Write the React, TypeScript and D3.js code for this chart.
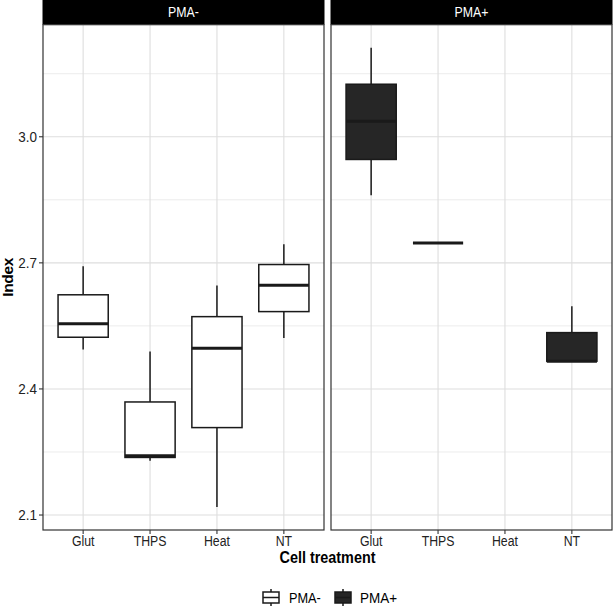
import * as React from "react"
import * as d3 from "d3"

// treatment categories on the x axis (shared by both facets)
const categories = ["Glut", "THPS", "Heat", "NT"]
const groups = ["PMA-", "PMA+"]

// box stats per category: [min, q1, median, q3, max]
const pmaMinus: (number[] | null)[] = [
  [2.494, 2.523, 2.555, 2.624, 2.692],
  [2.229, 2.237, 2.241, 2.369, 2.489],
  [2.119, 2.308, 2.497, 2.572, 2.646],
  [2.521, 2.584, 2.647, 2.696, 2.744],
]
const pmaPlus: (number[] | null)[] = [
  [2.861, 2.946, 3.037, 3.125, 3.212],
  [2.747, 2.747, 2.747, 2.747, 2.747],
  null,
  [2.466, 2.466, 2.466, 2.534, 2.597],
]

const yMajor = [2.1, 2.4, 2.7, 3.0]
const yMinor = [2.25, 2.55, 2.85, 3.15]

const fills = ["#ffffff", "#262626"]
const font = "'Liberation Sans', Arial, sans-serif"

const W = 615
const H = 606
const stripH = 24.7
const panelTop = 24.7
const panelBottom = 530
const panels = [
  { x0: 43, x1: 324 },
  { x0: 331, x1: 612 },
]

const allVals = [...pmaMinus, ...pmaPlus].filter(Boolean).flat() as number[]
const vMin = d3.min(allVals) as number
const vMax = d3.max(allVals) as number
const pad = (vMax - vMin) * 0.05

const yScale = d3
  .scaleLinear()
  .domain([vMin - pad, vMax + pad])
  .range([panelBottom, panelTop])

// narrow text: the labels are drawn slightly condensed
function Label({
  x,
  y,
  sx = 0.86,
  anchor = "middle",
  size = 15,
  fill = "#222",
  weight = "normal",
  dy = "0",
  children,
}: {
  x: number
  y: number
  sx?: number
  anchor?: string
  size?: number
  fill?: string
  weight?: string
  dy?: string
  children: React.ReactNode
}) {
  return (
    <text
      transform={`translate(${x},${y}) scale(${sx},1)`}
      textAnchor={anchor}
      dy={dy}
      fontSize={size}
      fontWeight={weight}
      fontFamily={font}
      fill={fill}
    >
      {children}
    </text>
  )
}

function Panel({ idx, data }: { idx: number; data: (number[] | null)[] }) {
  const { x0, x1 } = panels[idx]
  const x = d3.scalePoint().domain(categories).range([x0, x1]).padding(0.6)
  const boxW = x.step() * 0.75
  const grid = "#dedede"
  return (
    <g>
      {/* strip */}
      <rect x={x0 - 0.5} y={0} width={x1 - x0 + 1} height={stripH} fill="#000" />
      <Label x={(x0 + x1) / 2} y={stripH / 2} dy="0.36em" size={14} sx={0.88} fill="#fff">
        {groups[idx]}
      </Label>
      {/* grid */}
      {yMinor.map((v) => (
        <line key={"mi" + v} x1={x0} x2={x1} y1={yScale(v)} y2={yScale(v)} stroke={grid} strokeWidth={0.6} />
      ))}
      {yMajor.map((v) => (
        <line key={"ma" + v} x1={x0} x2={x1} y1={yScale(v)} y2={yScale(v)} stroke={grid} strokeWidth={1.1} />
      ))}
      {categories.map((c) => (
        <line key={"vx" + c} x1={x(c)} x2={x(c)} y1={panelTop} y2={panelBottom} stroke={grid} strokeWidth={1.1} />
      ))}
      {/* boxes */}
      {data.map((d, i) => {
        if (!d) return null
        const cx = x(categories[i]) as number
        const [mn, q1, md, q3, mx] = d
        return (
          <g key={"b" + i} stroke="#1a1a1a">
            {mx > q3 && <line x1={cx} x2={cx} y1={yScale(mx)} y2={yScale(q3)} strokeWidth={1.5} />}
            {mn < q1 && <line x1={cx} x2={cx} y1={yScale(mn)} y2={yScale(q1)} strokeWidth={1.5} />}
            <rect
              x={cx - boxW / 2}
              y={yScale(q3)}
              width={boxW}
              height={yScale(q1) - yScale(q3)}
              fill={fills[idx]}
              strokeWidth={1.5}
            />
            <line x1={cx - boxW / 2} x2={cx + boxW / 2} y1={yScale(md)} y2={yScale(md)} strokeWidth={3} />
          </g>
        )
      })}
      {/* border */}
      <rect
        x={x0}
        y={panelTop}
        width={x1 - x0}
        height={panelBottom - panelTop}
        fill="none"
        stroke="#333"
        strokeWidth={1.2}
      />
      {/* x ticks */}
      {categories.map((c) => (
        <g key={"xt" + c}>
          <line x1={x(c)} x2={x(c)} y1={panelBottom} y2={panelBottom + 4} stroke="#333" strokeWidth={1.1} />
          <Label x={x(c) as number} y={panelBottom + 16} sx={0.82}>
            {c}
          </Label>
        </g>
      ))}
    </g>
  )
}

function LegendKey({ x, y, fill }: { x: number; y: number; fill: string }) {
  const w = 16
  const cx = x + w / 2
  return (
    <g stroke="#1a1a1a" strokeWidth={1.5}>
      <line x1={cx} x2={cx} y1={y} y2={y + 3} />
      <line x1={cx} x2={cx} y1={y + 14} y2={y + 17} />
      <rect x={x} y={y + 3} width={w} height={11} fill={fill} />
      <line x1={x} x2={x + w} y1={y + 8.5} y2={y + 8.5} strokeWidth={1.5} />
    </g>
  )
}

export default function App() {
  const left = panels[0].x0
  return (
    <svg
      width={W}
      height={H}
      style={{ position: "absolute", left: 0, top: 0, background: "#fff" }}
    >
      <rect width={W} height={H} fill="#fff" />
      <Panel idx={0} data={pmaMinus} />
      <Panel idx={1} data={pmaPlus} />
      {/* y axis */}
      {yMajor.map((v) => (
        <g key={"yt" + v}>
          <line x1={left - 4} x2={left} y1={yScale(v)} y2={yScale(v)} stroke="#333" strokeWidth={1.1} />
          <Label x={left - 6} y={yScale(v)} dy="0.36em" anchor="end" sx={0.9}>
            {v.toFixed(1)}
          </Label>
        </g>
      ))}
      <text
        transform={`translate(13, ${(panelTop + panelBottom) / 2}) rotate(-90)`}
        textAnchor="middle"
        fontSize={15.5}
        fontWeight="bold"
        fontFamily={font}
        fill="#000"
        letterSpacing={-0.3}
      >
        Index
      </text>
      <Label x={(panels[0].x0 + panels[1].x1) / 2} y={563} size={16} sx={0.9} weight="bold" fill="#000">
        Cell treatment
      </Label>
      {/* legend */}
      <LegendKey x={263} y={589} fill={fills[0]} />
      <Label x={289} y={597.5} dy="0.36em" anchor="start" sx={0.85} fill="#000">
        {groups[0]}
      </Label>
      <LegendKey x={335} y={589} fill={fills[1]} />
      <Label x={360} y={597.5} dy="0.36em" anchor="start" sx={0.9} fill="#000">
        {groups[1]}
      </Label>
    </svg>
  )
}
